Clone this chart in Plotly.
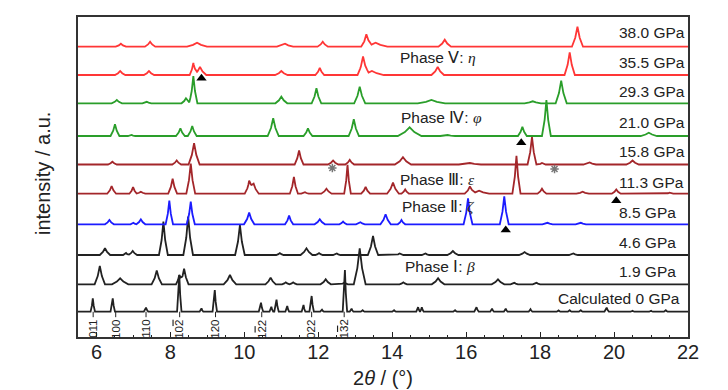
import numpy as np
import plotly.graph_objects as go

# ---------------- data ----------------
# peaks: (2theta position, height above baseline, half base-width) ; heights in a.u.
peaks_0 = [(5.90, 13.3, 0.06), (6.44, 13.3, 0.06), (7.34, 4, 0.06), (8.24, 36.7, 0.06), (8.84, 3.3, 0.05),
           (9.20, 21.7, 0.06), (10.45, 9, 0.06), (10.73, 5, 0.05), (10.87, 12, 0.06), (11.16, 5.7, 0.05),
           (11.60, 6.7, 0.05), (11.82, 15.7, 0.06), (12.10, 2, 0.05), (12.72, 41.7, 0.06), (12.90, 3, 0.05),
           (13.20, 1.5, 0.05), (14.05, 1.5, 0.05), (14.70, 4.5, 0.05), (14.80, 4.5, 0.05), (15.70, 1.5, 0.05),
           (16.28, 4.5, 0.06), (16.70, 3, 0.05), (17.07, 3, 0.05), (17.74, 2.5, 0.05), (18.50, 1.2, 0.05),
           (18.80, 1.5, 0.05), (19.10, 1.5, 0.05), (19.80, 4, 0.06), (20.50, 1, 0.05), (21.00, 1, 0.05),
           (21.40, 1.5, 0.05)]
peaks_1_9 = [(6.09, 18.3, 0.14), (6.64, 6, 0.22), (7.63, 13.7, 0.14), (8.24, 9.3, 0.09), (8.37, 15.7, 0.12),
             (9.61, 9.3, 0.17), (10.71, 6.7, 0.14), (11.12, 2, 0.1), (11.32, 2, 0.1), (12.20, 5, 0.14),
             (12.70, 1.5, 0.1), (13.12, 36, 0.16), (14.30, 2, 0.1), (15.24, 6, 0.17), (16.86, 5, 0.17),
             (17.30, 1.5, 0.1), (17.90, 1.5, 0.1)]
peaks_4_6 = [(6.23, 6.7, 0.14), (6.80, 2, 0.08), (6.98, 4, 0.12), (7.81, 33.3, 0.12), (8.48, 38.3, 0.13),
             (9.88, 30, 0.13), (10.96, 2, 0.1), (11.68, 6.7, 0.16), (12.02, 2, 0.1), (12.50, 1.5, 0.1),
             (13.48, 19, 0.14), (14.20, 1.5, 0.1), (14.90, 1.5, 0.1), (15.64, 4, 0.15), (17.58, 3, 0.15),
             (18.90, 1.5, 0.12)]
peaks_8_5 = [(6.35, 4.3, 0.12), (7.00, 1.5, 0.08), (7.20, 5, 0.12), (7.97, 23.7, 0.1), (8.55, 22.7, 0.11),
             (10.13, 11.7, 0.14), (11.21, 8.7, 0.11), (12.04, 5, 0.14), (12.67, 2.7, 0.1), (13.14, 2, 0.12),
             (13.82, 10, 0.14), (14.25, 4.3, 0.1), (16.05, 26, 0.12), (17.03, 28, 0.12), (18.20, 1.5, 0.14),
             (19.10, 1.5, 0.14)]
peaks_11_3 = [(6.41, 7.7, 0.12), (6.99, 6.7, 0.1), (7.20, 2, 0.12), (8.06, 15, 0.12), (8.55, 30, 0.12),
              (10.13, 12, 0.12), (10.25, 10, 0.14), (11.34, 16.7, 0.11), (11.64, 1.5, 0.1), (12.22, 5, 0.14),
              (12.79, 29, 0.09), (13.28, 6.7, 0.12), (14.02, 11, 0.16), (14.35, 4.3, 0.1), (16.10, 7, 0.14),
              (16.35, 3, 0.27), (17.36, 38, 0.11), (18.05, 5, 0.12), (19.15, 2, 0.17), (20.06, 4.3, 0.12),
              (21.50, 1, 0.1)]
peaks_15_8 = [(6.43, 2.7, 0.12), (8.17, 4, 0.12), (8.64, 21.3, 0.15), (11.48, 14, 0.12), (12.40, 4, 0.14),
              (12.85, 4.7, 0.12), (14.29, 7.3, 0.22), (16.10, 1.5, 0.3), (17.78, 27.3, 0.12), (18.05, 1.5, 0.1),
              (19.34, 2, 0.17), (20.50, 4, 0.17)]
peaks_21_0 = [(6.50, 11.7, 0.12), (6.95, 1, 0.1), (8.27, 7.7, 0.12), (8.59, 10, 0.12), (10.78, 17.7, 0.15),
              (11.72, 7.7, 0.12), (12.96, 16.7, 0.14), (14.47, 8.7, 0.32), (15.50, 1, 0.2), (17.52, 9.3, 0.12),
              (18.17, 36, 0.12), (20.94, 3.3, 0.22)]
peaks_29_3 = [(6.55, 3.3, 0.14), (7.36, 1.5, 0.12), (8.42, 5, 0.12), (8.62, 27.3, 0.11), (11.00, 6.7, 0.16),
              (11.95, 15, 0.13), (13.12, 16.7, 0.15), (15.06, 3.3, 0.37), (17.80, 2, 0.22), (18.57, 22.7, 0.15)]
peaks_35_5 = [(6.64, 4, 0.14), (7.42, 4, 0.14), (8.62, 12, 0.1), (8.80, 8, 0.17), (11.00, 4, 0.17),
              (12.04, 7, 0.12), (13.21, 17.7, 0.15), (13.45, 4, 0.32), (15.23, 8, 0.17), (18.80, 22.7, 0.14)]
peaks_38_0 = [(6.66, 3, 0.14), (7.45, 5, 0.14), (8.72, 4, 0.27), (11.10, 3, 0.22), (12.12, 5, 0.14),
              (13.30, 11.7, 0.14), (13.55, 4, 0.32), (15.42, 7, 0.17), (19.01, 20, 0.15)]

pressures = ["Calculated 0 GPa", "1.9 GPa", "4.6 GPa", "8.5 GPa", "11.3 GPa",
             "15.8 GPa", "21.0 GPa", "29.3 GPa", "35.5 GPa", "38.0 GPa"]
baselines = [0, 27.4, 56.7, 87.4, 118, 147.2, 175.7, 208.4, 236.7, 265]
label_y = [13.4, 40, 69, 99, 129.4, 160, 189.4, 220, 249.4, 279.4]
colors = ["#222222", "#222222", "#222222", "#1c1cff", "#a3262a",
          "#a3262a", "#2a9e2a", "#2a9e2a", "#ff3636", "#ff3636"]
all_peaks = [peaks_0, peaks_1_9, peaks_4_6, peaks_8_5, peaks_11_3,
             peaks_15_8, peaks_21_0, peaks_29_3, peaks_35_5, peaks_38_0]

OVER = "<span style='text-decoration:overline'>{}</span>"
hkl_labels = ["011", "100", "110", "10" + OVER.format("2"), "1" + OVER.format("2") + "2", "120", "022",
              "1" + OVER.format("3") + "2"]
hkl_pos = [5.91, 6.52, 7.34, 8.25, 10.47, 9.22, 11.82, 12.70]

phase_num = ["\u2164", "\u2163", "\u2162", "\u2161", "\u2160"]
phase_greek = ["\u03b7", "\u03c6", "\u03b5", "\u03b6", "\u03b2"]
phase_x = [14.15, 14.17, 14.15, 14.2, 14.28]
phase_y = [254.7, 194.4, 132.4, 105.7, 45]

tri_x = [8.84, 17.49, 20.06, 17.07]
tri_y = [233.4, 169, 111, 81.7]
star_x = [12.38, 18.39]
star_y = [143.7, 142.7]

X_MIN, X_MAX = 5.5, 22.0
FONT = "Liberation Sans, Arial, sans-serif"


def profile(peaks):
    xs = {X_MIN, X_MAX}
    for p, h, w in peaks:
        xs |= {p - w, p - 0.4 * w, p, p + 0.4 * w, p + w}
    xs = np.array(sorted(x for x in xs if X_MIN <= x <= X_MAX))
    ys = np.zeros_like(xs)
    for p, h, w in peaks:
        ys += np.interp(xs, [p - w, p - 0.4 * w, p, p + 0.4 * w, p + w],
                        [0, 0.45 * h, h, 0.45 * h, 0], left=0, right=0)
    return xs, ys


fig = go.Figure()
for peaks, base, col in zip(all_peaks, baselines, colors):
    xs, ys = profile(peaks)
    fig.add_trace(go.Scatter(x=xs, y=ys + base, mode="lines",
                             line=dict(color=col, width=1.8), hoverinfo="skip", showlegend=False))

fig.add_trace(go.Scatter(x=tri_x, y=tri_y, mode="markers",
                         marker=dict(symbol="triangle-up", size=9, color="black"), showlegend=False))
fig.add_trace(go.Scatter(x=star_x, y=star_y, mode="markers",
                         marker=dict(symbol="asterisk-open", size=7, color="#777777",
                                     line=dict(color="#777777", width=1.5)),
                         showlegend=False))

annotations = []
for name, ly in zip(pressures, label_y):
    if name.startswith("Calc"):
        annotations.append(dict(x=21.84, y=ly, text=name, xanchor="right", yanchor="middle",
                                showarrow=False, font=dict(family=FONT, size=15.5, color="#222")))
    else:
        annotations.append(dict(x=20.07, y=ly, text=name, xanchor="left", yanchor="middle",
                                showarrow=False, font=dict(family=FONT, size=15.5, color="#222")))

for n, g, px_, py_ in zip(phase_num, phase_greek, phase_x, phase_y):
    annotations.append(dict(x=px_, y=py_, xanchor="left", yanchor="middle", showarrow=False,
                            text="Phase " + n + ": <span style='font-family:Liberation Serif, serif'><i>"
                                 + g + "</i></span>",
                            font=dict(family=FONT, size=15.5, color="#222")))

shapes = []
for lab, pos in zip(hkl_labels, hkl_pos):
    shapes.append(dict(type="line", x0=pos, x1=pos, y0=0, y1=-5.5, line=dict(color="#222", width=1)))
    annotations.append(dict(x=pos, y=-6.0, text=lab, textangle=-90, xanchor="center", yanchor="top",
                            showarrow=False, font=dict(family=FONT, size=11.5, color="#222")))

annotations.append(dict(x=0.5, xref="paper", y=-0.127, yref="paper", yanchor="middle",
                        text="2<i>\u03b8</i> / (\u00b0)", showarrow=False,
                        font=dict(family=FONT, size=20, color="#222")))
annotations.append(dict(x=-0.057, xref="paper", y=0.51, yref="paper", textangle=-90,
                        text="intensity / a.u.", showarrow=False, xanchor="center", yanchor="middle",
                        font=dict(family=FONT, size=20, color="#222")))

fig.update_layout(
    width=728, height=390,
    margin=dict(l=78, r=39.5, t=17, b=53),
    paper_bgcolor="white", plot_bgcolor="white",
    annotations=annotations, shapes=shapes,
    xaxis=dict(range=[X_MIN, X_MAX], tickvals=[6, 8, 10, 12, 14, 16, 18, 20, 22],
               ticks="inside", ticklen=5, tickwidth=1, tickcolor="#222", ticklabelstandoff=-4,
               minor=dict(dtick=0.5, ticks="inside", ticklen=2.5, tickcolor="#222"),
               showgrid=False, zeroline=False, showline=True, linecolor="#333", linewidth=1.5,
               mirror=True, tickfont=dict(family=FONT, size=20, color="#222")),
    yaxis=dict(range=[-25.3, 294.7], showticklabels=False, ticks="", showgrid=False, zeroline=False,
               showline=True, linecolor="#333", linewidth=1.5, mirror=True),
)

fig.write_html("out.html", config={"displayModeBar": False},
               post_script="document.body.style.margin='0px';")
